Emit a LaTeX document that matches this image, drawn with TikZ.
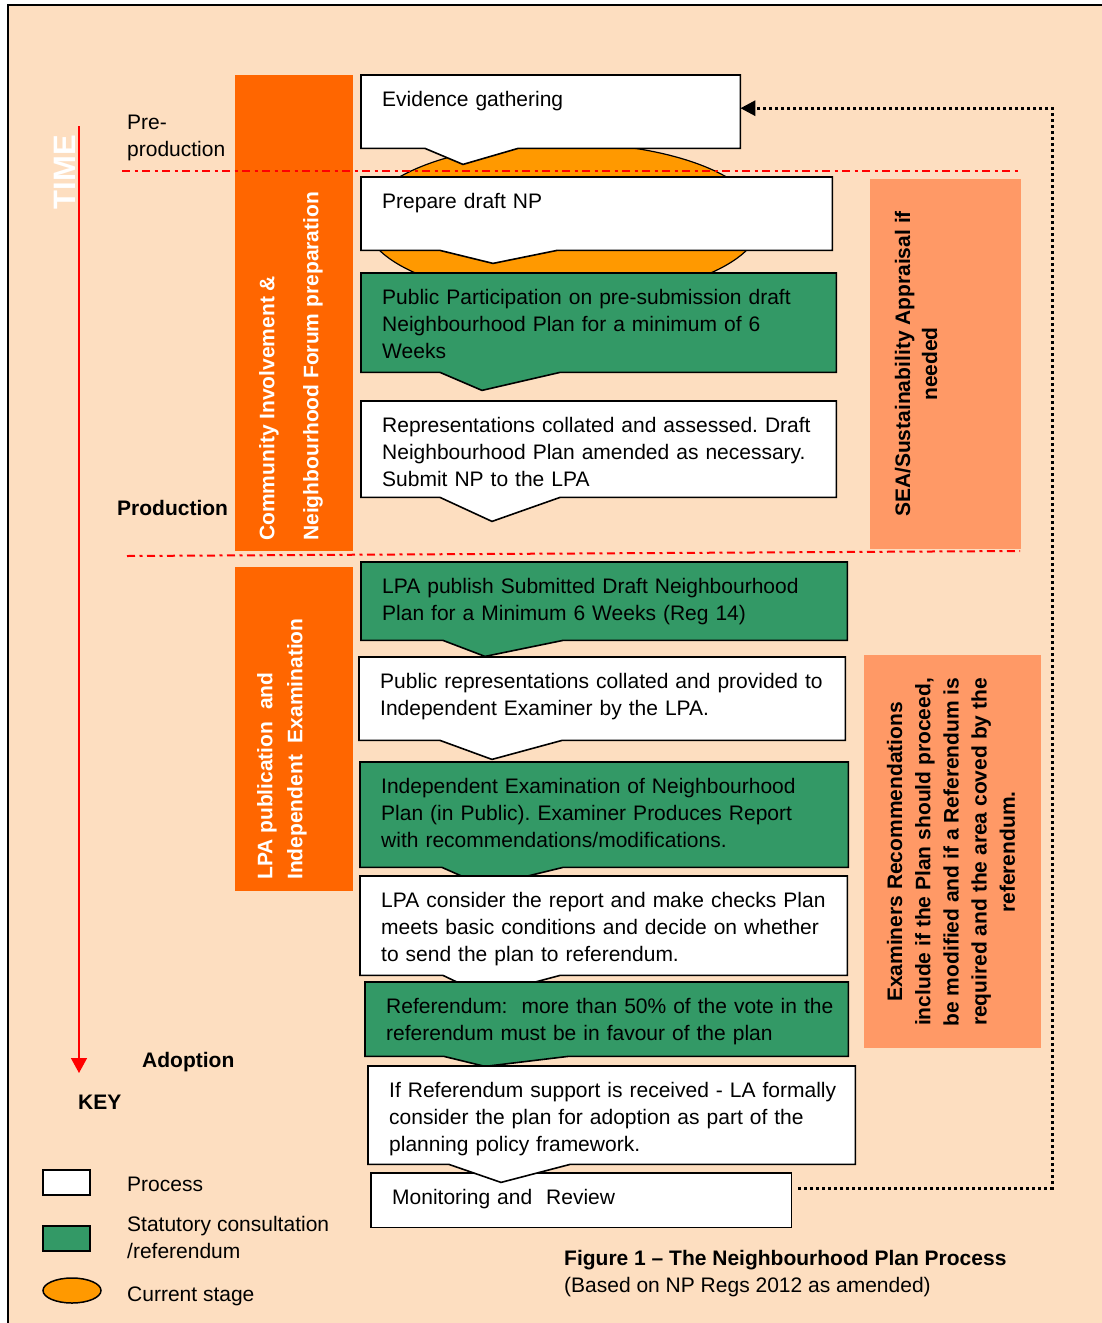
\documentclass[tikz,border=0pt]{standalone}
\usepackage{fontspec}
\setmainfont{Liberation Sans}
\usetikzlibrary{arrows.meta,backgrounds}

\definecolor{pagetan}{HTML}{FDDEC0}
\definecolor{barorange}{HTML}{FF6600}
\definecolor{sidesalmon}{HTML}{FF9966}
\definecolor{consgreen}{HTML}{339966}
\definecolor{nowamber}{HTML}{FF9900}

\newcommand{\chevbox}[6]{%
  \filldraw[stageline, fill=#1] (#2.north west) -- (#2.north east) -- (#2.south east)
    -- ([xshift=#6pt]#2.south west) -- ([xshift=#4pt,yshift=-#5pt]#2.south west)
    -- ([xshift=#3pt]#2.south west) -- (#2.south west) -- cycle;}

\begin{document}
\begin{tikzpicture}[x=1pt, y=-1pt, font=\fontsize{21}{27}\selectfont,
  stagebox/.style={anchor=north west, inner xsep=21pt, inner ysep=0pt, align=left, text height=31pt,
    execute at begin node={\frenchspacing\rightskip=0pt plus 1fil minus 30pt\relax}},
  stageline/.style={draw=black, line width=1.6pt},
  phase/.style={red, line width=2pt, dash pattern=on 8pt off 4.5pt on 3pt off 4.5pt},
  feedback/.style={line width=3pt, dash pattern=on 3pt off 3pt, -{Triangle[length=15pt,width=15pt]}},
  note/.style={anchor=west, inner sep=0pt, align=left},
  vlabel/.style={rotate=90, inner sep=0pt, font=\fontsize{21}{#1}\selectfont\bfseries}]

\useasboundingbox (0,0) rectangle (1102,1323);

\node[stagebox, text width=337pt, text depth=42pt] (evid) at (361,75) {Evidence gathering};
\node[stagebox, text width=429pt, text depth=42pt] (prep) at (361,177) {Prepare draft NP};
\node[stagebox, text width=433pt, text depth=68pt] (pubpart) at (361,273) {Public Participation on pre-submission draft\\Neighbourhood Plan for a minimum of 6\\Weeks};
\node[stagebox, text width=433pt, text depth=65pt] (repr) at (361,401) {Representations collated and assessed. Draft\\Neighbourhood Plan amended as necessary.\\Submit NP to the LPA};
\node[stagebox, text width=444pt, text depth=47pt] (lpapub) at (361,562) {LPA publish Submitted Draft Neighbourhood\\Plan for a Minimum 6 Weeks (Reg 14)};
\node[stagebox, text width=444pt, text depth=52pt] (pubrep) at (359,657) {Public representations collated and provided to\\Independent Examiner by the LPA.};
\node[stagebox, text width=446pt, text depth=74pt] (indep) at (360,762) {Independent Examination of Neighbourhood\\Plan (in Public). Examiner Produces Report\\with recommendations/modifications.};
\node[stagebox, text width=445pt, text depth=68pt] (lpacons) at (360,876) {LPA consider the report and make checks Plan\\meets basic conditions and decide on whether\\to send the plan to referendum.};
\node[stagebox, text width=441pt, text depth=43pt] (refer) at (365,982) {Referendum:\ \ more than 50\% of the vote in the\\referendum must be in favour of the plan};
\node[stagebox, text width=445pt, text depth=67pt] (ifref) at (368,1066) {If Referendum support is received - LA formally\\consider the plan for adoption as part of the\\planning policy framework.};
\node[stagebox, text width=378pt, text depth=23pt] (mon) at (371,1173) {Monitoring and\ \ Review};

\begin{pgfonlayer}{background}
\fill[white] (0,0) rectangle (1102,1323);
\fill[pagetan] (8,5) rectangle (1102,1323);
\draw[line width=1.5pt] (8,1323) -- (8,5) -- (1102,5);
\fill[barorange] (235,75) rectangle (353,551);
\fill[barorange] (235,567) rectangle (353,891);
\fill[sidesalmon] (870,179) rectangle (1021,549);
\fill[sidesalmon] (864,655) rectangle (1041,1048);
\filldraw[fill=nowamber, draw=black, line width=1.2pt] (563,221) ellipse [x radius=198pt, y radius=78pt];
\draw[phase] (122,171) -- (1020,171);
\draw[phase] (127,556) -- (1020,551);
\chevbox{white}{evid}{64}{102}{16}{157}
\chevbox{white}{prep}{79}{132}{13}{196}
\chevbox{consgreen}{pubpart}{79}{121}{18}{199}
\chevbox{white}{repr}{79}{131}{24}{199}
\chevbox{consgreen}{lpapub}{82}{124}{16}{202}
\chevbox{white}{pubrep}{81}{133}{19}{203}
\chevbox{consgreen}{indep}{82}{125}{19}{203}
\chevbox{white}{lpacons}{83}{125}{20}{200}
\chevbox{consgreen}{refer}{79}{120}{10}{203}
\filldraw[stageline, fill=white] (mon.north west) rectangle (mon.south east);
\chevbox{white}{ifref}{81}{133}{18}{202}
\filldraw[stageline, fill=white] (43,1170) rectangle (90,1195);
\filldraw[stageline, fill=consgreen] (43,1226) rectangle (90,1251);
\filldraw[fill=nowamber, draw=black, line width=1.5pt] (72,1290.5) ellipse [x radius=29pt, y radius=12.5pt];
\end{pgfonlayer}

\node[vlabel=44pt, text=white, align=left, anchor=west] (commtxt) at (291,541) {Community Involvement \&\\Neighbourhood Forum preparation};
\node[vlabel=30pt, text=white, align=left, anchor=west] (examtxt) at (282,880) {LPA publication\ \ and\\Independent\ \ Examination};
\node[vlabel=27pt, align=center] (seatxt) at (916,364) {SEA/Sustainability Appraisal if\\needed};
\node[vlabel=28.2pt, align=center] (recotxt) at (951,852) {Examiners Recommendations\\include if the Plan should proceed,\\be modified and if a Referendum is\\required and the area coved by the\\referendum.};

\node[rotate=90, text=white, inner sep=0pt, font=\fontsize{31}{31}\selectfont\bfseries] (time) at (64.5,172) {TIME};
\coordinate (timetop) at (79,126);
\coordinate (timeend) at (79,1073);
\draw[red, line width=1.5pt, -{Triangle[length=15pt,width=16pt]}] (timetop) -- (timeend);

\node[note] (preprod) at (127,138) {Pre-\\production};
\node[note] (prod) at (117,508) {\bfseries Production};
\node[note] (adopt) at (142,1062) {\bfseries Adoption};

\node[note] (keyhead) at (78,1102) {\bfseries KEY};
\node[note] (keyproc) at (127,1184) {Process};
\node[note] (keystat) at (127,1237) {Statutory consultation\\/referendum};
\node[note] (keycur) at (127,1296) {Current stage};

\node[note] (caption) at (564,1273.5) {{\bfseries Figure 1 -- The Neighbourhood Plan Process}\\{(Based on NP Regs 2012 as amended)}};

\draw[feedback] ([shift={(7pt,12pt)}]mon.east) -- ++(254pt,0pt) |- ([yshift=3.5pt]evid.east);

\end{tikzpicture}
\end{document}
